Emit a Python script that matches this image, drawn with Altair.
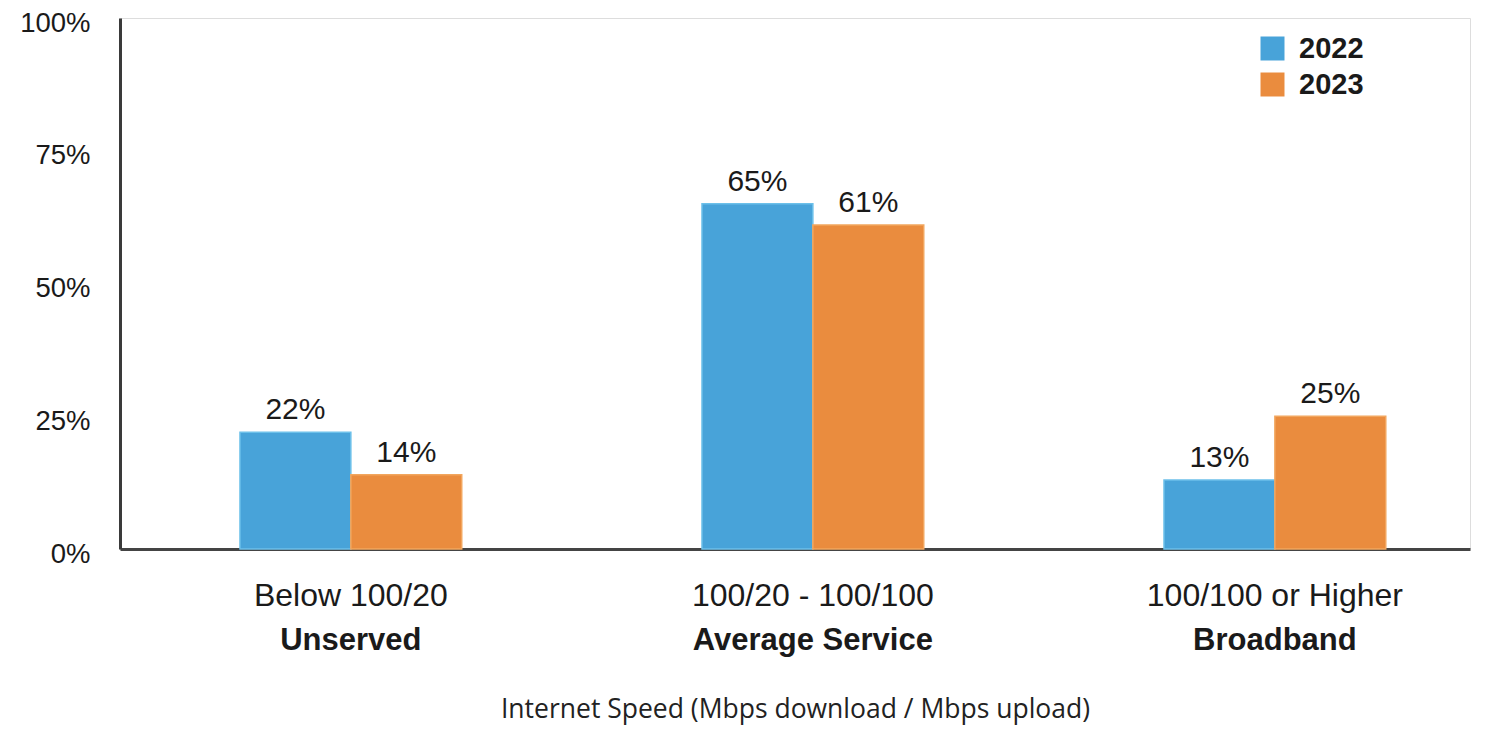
import altair as alt
import pandas as pd

categories = ["Below 100/20", "100/20 - 100/100", "100/100 or Higher"]
subtitles = ["Unserved", "Average Service", "Broadband"]
years = ["2022", "2023"]
values_2022 = [0.22, 0.65, 0.13]
values_2023 = [0.14, 0.61, 0.25]
y_ticks = [0, 0.25, 0.5, 0.75, 1.0]

rows = []
for c, s, a, b in zip(categories, subtitles, values_2022, values_2023):
    rows.append({"cat": c, "sub": s, "year": "2022", "value": a})
    rows.append({"cat": c, "sub": s, "year": "2023", "value": b})
df = pd.DataFrame(rows)
cats_df = pd.DataFrame({"cat": categories, "sub": subtitles})

FONT = "Liberation Sans"

xscale = alt.Scale(domain=categories, paddingInner=0.52, paddingOuter=0.221, align=0.5875)
x = alt.X("cat:N", scale=xscale, sort=categories,
          axis=alt.Axis(labels=False, ticks=False, domain=True, domainColor="#444444",
                        domainWidth=3, title="Internet Speed (Mbps download / Mbps upload)",
                        titleFont="Open Sans", titleFontSize=26.5, titleFontWeight="normal",
                        titleColor="#222222", titlePadding=147))
y = alt.Y("value:Q", scale=alt.Scale(domain=[0, 1]),
          axis=alt.Axis(values=y_ticks, format=".0%", ticks=False, grid=False,
                        domainColor="#3a3a3a", domainWidth=3, labelPadding=30, labelOffset=5,
                        labelFont=FONT, labelFontSize=27.5, labelColor="#1a1a1a", title=None))

color = alt.Color("year:N", scale=alt.Scale(domain=years, range=["#48A3D9", "#EA8C3E"]),
                  legend=alt.Legend(title=None, orient="none", legendX=1138, legendY=16,
                                    symbolType="square", symbolSize=576, symbolStrokeWidth=0,
                                    symbolOpacity=1, labelFont=FONT, labelFontSize=29,
                                    labelFontWeight="bold", labelColor="#1a1a1a",
                                    labelOffset=12, rowPadding=6, padding=0))

bars = alt.Chart(df).mark_bar(strokeWidth=1.5).encode(
    x=x, y=y, xOffset=alt.XOffset("year:N", sort=years), color=color,
    stroke=alt.Stroke("year:N", scale=alt.Scale(domain=years, range=["#6CC0EA", "#F2A65E"]), legend=None),
)

vals = alt.Chart(df).mark_text(baseline="bottom", dy=-7, font=FONT, fontSize=30,
                               fontWeight=500, color="#1a1a1a").encode(
    x=alt.X("cat:N", sort=categories), y="value:Q", xOffset=alt.XOffset("year:N", sort=years),
    text=alt.Text("value:Q", format=".0%"),
)

line1 = alt.Chart(cats_df).mark_text(font=FONT, fontSize=32, color="#1a1a1a", baseline="middle").encode(
    x=alt.X("cat:N", sort=categories), y=alt.value(578), text="cat:N")
line2 = alt.Chart(cats_df).mark_text(font=FONT, fontSize=31, fontWeight="bold", color="#1a1a1a",
                                     baseline="middle").encode(
    x=alt.X("cat:N", sort=categories), y=alt.value(623), text="sub:N")

chart = alt.layer(bars, vals, line1, line2).properties(
    width=1350, height=531,
    autosize=alt.AutoSizeParams(type="none"),
    padding={"left": 112, "top": 10, "right": 8, "bottom": 176},
).configure_view(stroke=None).configure(background="white")

chart.save("out.html", embed_options={"renderer": "svg", "actions": False})
